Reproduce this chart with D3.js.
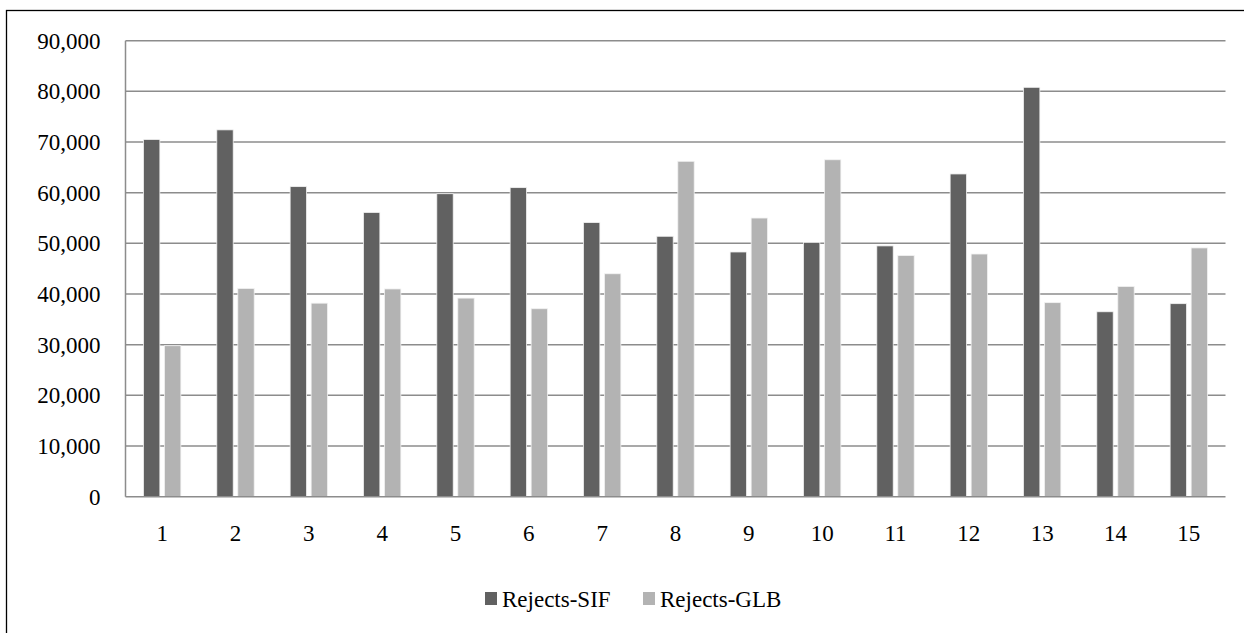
<!DOCTYPE html>
<html>
<head>
<meta charset="utf-8">
<script src="https://cdn.jsdelivr.net/npm/d3@7"></script>
<style>
  html, body { margin: 0; padding: 0; background: #fff; }
  svg { display: block; }
</style>
</head>
<body>
<svg id="chart" width="1244" height="633"></svg>
<script>
// Batch numbers along the x axis
const categories = ["1","2","3","4","5","6","7","8","9","10","11","12","13","14","15"];
// Reject counts per batch
const rejectsSIF = [70500, 72400, 61200, 56100, 59800, 61000, 54100, 51400, 48300, 50200, 49500, 63700, 80800, 36500, 38100];
const rejectsGLB = [29800, 41100, 38200, 41000, 39200, 37100, 44000, 66200, 55000, 66500, 47600, 47900, 38300, 41500, 49100];
const seriesNames = ["Rejects-SIF", "Rejects-GLB"];
const yTicks = [0, 10000, 20000, 30000, 40000, 50000, 60000, 70000, 80000, 90000];

const FONT = "Liberation Serif";
const colors = ["#616161", "#b3b3b3"];
const svg = d3.select("#chart").attr("font-family", FONT);

// Outer chart frame (runs off the right and bottom edge)
svg.append("rect")
  .attr("x", 6.5).attr("y", 10.5)
  .attr("width", 1300).attr("height", 700)
  .attr("fill", "none").attr("stroke", "#000").attr("stroke-width", 1.3);

const plot = { left: 125.5, right: 1225.5, top: 40.7, bottom: 496.7 };

const x = d3.scaleBand().domain(categories).range([plot.left, plot.right]);
const y = d3.scaleLinear().domain([0, 90000]).range([plot.bottom, plot.top]);

// Horizontal gridlines
svg.append("g")
  .selectAll("line")
  .data(yTicks.filter(d => d > 0))
  .join("line")
  .attr("x1", plot.left).attr("x2", plot.right)
  .attr("y1", d => y(d)).attr("y2", d => y(d))
  .attr("stroke", "#8c8c8c").attr("stroke-width", 1.5);

// Bars
const series = [rejectsSIF, rejectsGLB];
const offsets = [-10.5, 10.5];
const barW = 16.4;
series.forEach((vals, si) => {
  svg.append("g")
    .selectAll("rect")
    .data(vals)
    .join("rect")
    .attr("x", (d, i) => x(categories[i]) + x.bandwidth() / 2 + offsets[si] - barW / 2)
    .attr("y", d => y(d))
    .attr("width", barW)
    .attr("height", d => y(0) - y(d))
    .attr("fill", colors[si])
    .attr("stroke", "#f2f2f2")
    .attr("stroke-width", 0.8);
});

// Axis lines
svg.append("line")
  .attr("x1", plot.left).attr("x2", plot.left)
  .attr("y1", plot.top).attr("y2", plot.bottom)
  .attr("stroke", "#8c8c8c").attr("stroke-width", 1.5);
svg.append("line")
  .attr("x1", plot.left).attr("x2", plot.right)
  .attr("y1", plot.bottom).attr("y2", plot.bottom)
  .attr("stroke", "#8c8c8c").attr("stroke-width", 1.5);

// Y axis labels
const fmt = d3.format(",");
const yAxis = d3.axisLeft(y).tickValues(yTicks).tickFormat(fmt).tickSize(0).tickPadding(25);
const gy = svg.append("g").attr("transform", `translate(${plot.left},0)`).call(yAxis)
  .attr("font-family", FONT).attr("font-size", 23);
gy.select(".domain").remove();
gy.selectAll("text").attr("fill", "#000");

// X axis labels
const xAxis = d3.axisBottom(x).tickSize(0).tickPadding(28);
const gx = svg.append("g").attr("transform", `translate(0,${plot.bottom})`).call(xAxis)
  .attr("font-family", FONT).attr("font-size", 23);
gx.select(".domain").remove();
gx.selectAll("text").attr("fill", "#000");

// Legend
const legendItems = [
  { name: seriesNames[0], color: colors[0], x: 485 },
  { name: seriesNames[1], color: colors[1], x: 643 }
];
const lg = svg.append("g").attr("font-family", FONT).attr("font-size", 23);
legendItems.forEach(it => {
  lg.append("rect")
    .attr("x", it.x).attr("y", 592)
    .attr("width", 12).attr("height", 13)
    .attr("fill", it.color);
  lg.append("text")
    .attr("x", it.x + 17).attr("y", 606.5)
    .attr("fill", "#000")
    .text(it.name);
});
</script>
</body>
</html>
